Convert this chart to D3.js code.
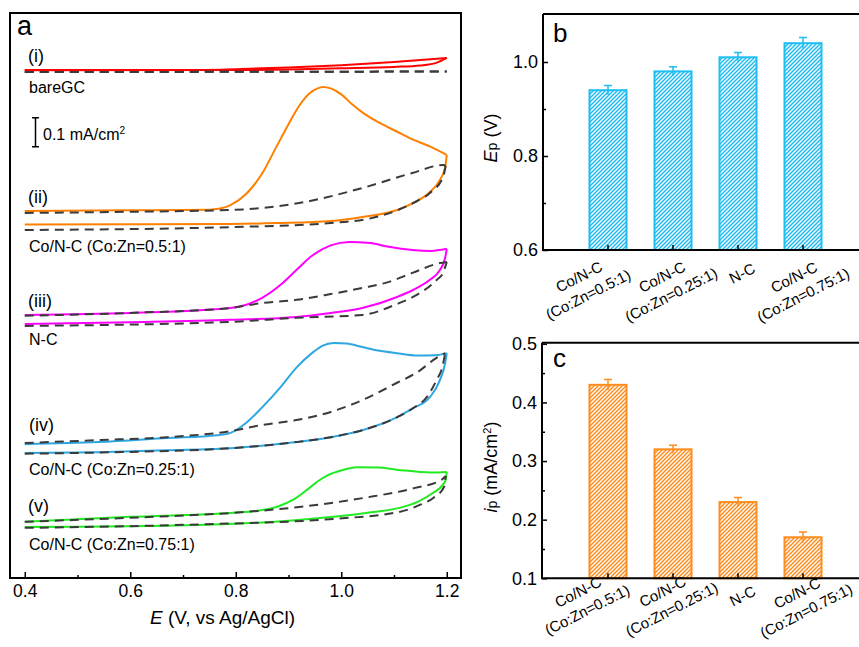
<!DOCTYPE html>
<html><head><meta charset="utf-8">
<script src="https://cdn.jsdelivr.net/npm/d3@7"></script>
<style>body{margin:0;background:#fff}svg{display:block}</style>
</head><body><svg id="c" width="859" height="647"></svg>
<script>
// ---------------- DATA ----------------
// Panel a: cyclic voltammograms (E in V vs Ag/AgCl, j in mA/cm^2, relative to each curve's offset)
const xTicksA = [0.4, 0.6, 0.8, 1.0, 1.2];
const xMinorA = [0.5, 0.7, 0.9, 1.1];
const curveNumerals = ["(i)", "(ii)", "(iii)", "(iv)", "(v)"];
const curveNames = ["bareGC", "Co/N-C (Co:Zn=0.5:1)", "N-C", "Co/N-C (Co:Zn=0.25:1)", "Co/N-C (Co:Zn=0.75:1)"];
const curveOffsets = [1.750, 1.201, 0.870, 0.431, 0.173];
const scaleBarValue = 0.1;

const fwd_i = [[0.40,0.003],[0.70,0.003],[0.80,0.006],[0.90,0.012],[1.00,0.020],[1.10,0.031],[1.20,0.045]];
const rev_i = [[1.20,0.045],[1.18,0.028],[1.15,0.019],[1.10,0.014],[1.00,0.009],[0.90,0.005],[0.80,0.003],[0.40,0.002]];
const bgFwd_i = [[0.40,-0.004],[0.80,-0.003],[1.20,-0.002]];
const bgRev_i = [[1.20,-0.002],[0.80,-0.003],[0.40,-0.004]];

const fwd_ii = [[0.40,0.066],[0.60,0.068],[0.75,0.070],[0.77,0.074],[0.79,0.086],[0.82,0.125],[0.85,0.195],[0.875,0.280],[0.90,0.365],[0.92,0.428],[0.94,0.472],[0.955,0.489],[0.965,0.494],[0.98,0.489],[1.00,0.468],[1.02,0.435],[1.04,0.406],[1.07,0.372],[1.105,0.340],[1.135,0.313],[1.17,0.287],[1.20,0.259]];
const rev_ii = [[1.20,0.259],[1.197,0.217],[1.187,0.173],[1.168,0.131],[1.136,0.093],[1.106,0.069],[1.04,0.045],[0.98,0.031],[0.88,0.024],[0.79,0.021],[0.60,0.020],[0.40,0.019]];
const bgFwd_ii = [[0.40,0.059],[0.60,0.063],[0.79,0.069],[0.92,0.093],[1.04,0.145],[1.135,0.197],[1.193,0.224],[1.198,0.221]];
const bgRev_ii = [[1.198,0.221],[1.193,0.183],[1.168,0.128],[1.136,0.093],[1.073,0.048],[0.98,0.024],[0.79,0.010],[0.40,0.000]];

const fwd_iii = [[0.40,0.038],[0.60,0.045],[0.79,0.062],[0.82,0.073],[0.85,0.097],[0.885,0.142],[0.915,0.193],[0.945,0.243],[0.98,0.278],[1.015,0.290],[1.055,0.286],[1.09,0.273],[1.135,0.262],[1.17,0.259],[1.20,0.266]];
const rev_iii = [[1.20,0.266],[1.197,0.235],[1.187,0.193],[1.168,0.159],[1.136,0.124],[1.106,0.100],[1.04,0.062],[0.98,0.045],[0.915,0.031],[0.79,0.021],[0.60,0.013],[0.40,0.007]];
const bgFwd_iii = [[0.40,0.035],[0.60,0.045],[0.79,0.062],[0.85,0.079],[0.915,0.090],[0.98,0.110],[1.04,0.131],[1.09,0.152],[1.135,0.183],[1.187,0.217],[1.20,0.221]];
const bgRev_iii = [[1.20,0.221],[1.193,0.183],[1.181,0.159],[1.136,0.100],[1.106,0.076],[1.04,0.038],[0.915,0.028],[0.79,0.014],[0.40,0.000]];

const fwd_iv = [[0.40,0.031],[0.54,0.038],[0.67,0.052],[0.765,0.062],[0.79,0.070],[0.82,0.105],[0.85,0.158],[0.885,0.228],[0.915,0.295],[0.945,0.346],[0.965,0.371],[0.985,0.380],[1.01,0.378],[1.04,0.366],[1.07,0.354],[1.105,0.345],[1.145,0.337],[1.18,0.338],[1.20,0.345]];
const rev_iv = [[1.20,0.345],[1.197,0.311],[1.187,0.252],[1.168,0.193],[1.136,0.155],[1.106,0.124],[1.04,0.079],[0.98,0.055],[0.915,0.038],[0.79,0.017],[0.67,0.010],[0.54,0.003],[0.40,0.000]];
const bgFwd_iv = [[0.40,0.035],[0.54,0.045],[0.67,0.055],[0.79,0.076],[0.85,0.097],[0.915,0.114],[0.98,0.142],[1.04,0.183],[1.105,0.242],[1.145,0.280],[1.18,0.328],[1.197,0.345]];
const bgRev_iv = [[1.197,0.345],[1.192,0.300],[1.18,0.250],[1.165,0.200],[1.136,0.155],[1.106,0.124],[1.04,0.079],[0.98,0.055],[0.915,0.038],[0.79,0.017],[0.54,0.002],[0.40,-0.002]];

const fwd_v = [[0.40,0.021],[0.60,0.038],[0.795,0.052],[0.845,0.060],[0.88,0.074],[0.91,0.098],[0.935,0.131],[0.955,0.160],[0.975,0.182],[1.00,0.198],[1.03,0.209],[1.07,0.208],[1.105,0.201],[1.17,0.191],[1.20,0.193]];
const rev_v = [[1.20,0.193],[1.198,0.166],[1.193,0.150],[1.174,0.121],[1.145,0.090],[1.11,0.069],[1.05,0.052],[0.985,0.038],[0.73,0.010],[0.40,0.003]];
const bgFwd_v = [[0.40,0.021],[0.60,0.035],[0.795,0.052],[0.92,0.072],[1.045,0.104],[1.14,0.138],[1.19,0.166],[1.198,0.179]];
const bgRev_v = [[1.198,0.179],[1.195,0.142],[1.175,0.104],[1.15,0.080],[1.11,0.055],[0.985,0.031],[0.73,0.012],[0.40,0.000]];

// Panels b and c: bar charts
const categories = ["Co/N-C (Co:Zn=0.5:1)", "Co/N-C (Co:Zn=0.25:1)", "N-C", "Co/N-C (Co:Zn=0.75:1)"];
const categoryLines = [["Co/N-C","(Co:Zn=0.5:1)"],["Co/N-C","(Co:Zn=0.25:1)"],["N-C"],["Co/N-C","(Co:Zn=0.75:1)"]];
const EpValues = [0.94, 0.98, 1.01, 1.04];
const EpErrors = [0.010, 0.010, 0.010, 0.012];
const EpTicks = [0.6, 0.8, 1.0];
const EpMinor = [0.7, 0.9];
const ipValues = [0.43, 0.32, 0.23, 0.17];
const ipErrors = [0.009, 0.007, 0.008, 0.009];
const ipTicks = [0.1, 0.2, 0.3, 0.4, 0.5];
const ipMinor = [0.15, 0.25, 0.35, 0.45];

// ---------------- STYLE / LAYOUT ----------------
const FONT = '"Liberation Sans", Arial, Helvetica, sans-serif';
const curveColors = ["#ff0000", "#ff8000", "#ff00ff", "#2ea6e0", "#22ea22"];
const dashColor = "#3a3a3a";
const blueBar = "#1fbdf2", orangeBar = "#ff8c1e";

const svg = d3.select("#c");
const defs = svg.append("defs");

// ---------------- PANEL A ----------------
const xA = d3.scaleLinear().domain([0.372, 1.227]).range([10, 461]);
const yA = d3.scaleLinear().domain([0, 1.95]).range([578, 13]);
const gA = svg.append("g");

const curves = [
  {fwd: fwd_i, rev: rev_i, bgF: bgFwd_i, bgR: bgRev_i},
  {fwd: fwd_ii, rev: rev_ii, bgF: bgFwd_ii, bgR: bgRev_ii},
  {fwd: fwd_iii, rev: rev_iii, bgF: bgFwd_iii, bgR: bgRev_iii},
  {fwd: fwd_iv, rev: rev_iv, bgF: bgFwd_iv, bgR: bgRev_iv},
  {fwd: fwd_v, rev: rev_v, bgF: bgFwd_v, bgR: bgRev_v}
];
const asc = seg => seg.slice().sort((a, b) => a[0] - b[0]);
curves.forEach((c, i) => {
  const off = curveOffsets[i];
  const line = d3.line().x(d => xA(d[0])).y(d => yA(d[1] + off)).curve(d3.curveMonotoneX);
  [c.fwd, c.rev].forEach(seg => gA.append("path").attr("d", line(asc(seg))).attr("fill", "none")
    .attr("stroke", curveColors[i]).attr("stroke-width", 2).attr("stroke-linejoin", "round"));
  [c.bgF, c.bgR].forEach(seg => gA.append("path").attr("d", line(asc(seg))).attr("fill", "none")
    .attr("stroke", dashColor).attr("stroke-width", 2).attr("stroke-dasharray", "9,6"));
});

// frame
gA.append("rect").attr("x", xA.range()[0]).attr("y", yA.range()[1])
  .attr("width", xA.range()[1] - xA.range()[0]).attr("height", yA.range()[0] - yA.range()[1])
  .attr("fill", "none").attr("stroke", "#000").attr("stroke-width", 2);

const axA = gA.append("g").attr("transform", `translate(0,${yA.range()[0]})`)
  .call(d3.axisBottom(xA).tickValues(xTicksA).tickSizeInner(-6).tickSizeOuter(0).tickPadding(7).tickFormat(d3.format(".1f")));
axA.select(".domain").remove();
axA.selectAll("line").attr("stroke", "#000").attr("stroke-width", 1.5);
axA.selectAll("text").attr("font-size", 17.5).attr("font-family", FONT).attr("fill", "#000");
const axAm = gA.append("g").attr("transform", `translate(0,${yA.range()[0]})`)
  .call(d3.axisBottom(xA).tickValues(xMinorA).tickSizeInner(-3).tickSizeOuter(0).tickFormat(""));
axAm.select(".domain").remove();
axAm.selectAll("line").attr("stroke", "#000").attr("stroke-width", 1.5);

const xTitle = gA.append("text").attr("x", 222.5).attr("y", 624).attr("text-anchor", "middle")
  .attr("font-family", FONT).attr("font-size", 19);
xTitle.append("tspan").attr("font-style", "italic").text("E");
xTitle.append("tspan").text(" (V, vs Ag/AgCl)");

gA.append("text").attr("x", 17).attr("y", 35).attr("font-family", FONT).attr("font-size", 27).text("a");

const labelPosA = [
  {nx: 28, ny: 62, tx: 29, ty: 92.5},
  {nx: 28, ny: 203, tx: 29, ty: 251.5},
  {nx: 28, ny: 307, tx: 29, ty: 344.5},
  {nx: 29, ny: 431, tx: 29, ty: 475},
  {nx: 28, ny: 512, tx: 29, ty: 549.5}
];
labelPosA.forEach((p, i) => {
  gA.append("text").attr("x", p.nx).attr("y", p.ny).attr("font-family", FONT).attr("font-size", 18).text(curveNumerals[i]);
  gA.append("text").attr("x", p.tx).attr("y", p.ty).attr("font-family", FONT).attr("font-size", 16).text(curveNames[i]);
});

// scale bar
const sbBottom = 146.7, sbX = 35.5;
const sbH = yA(0) - yA(scaleBarValue);
gA.append("path").attr("d", `M${sbX - 3.5},${sbBottom - sbH} H${sbX + 3.5} M${sbX},${sbBottom - sbH} V${sbBottom} M${sbX - 3.5},${sbBottom} H${sbX + 3.5}`)
  .attr("stroke", "#000").attr("stroke-width", 1.5).attr("fill", "none");
const sbT = gA.append("text").attr("x", 43).attr("y", 140).attr("font-family", FONT).attr("font-size", 16);
sbT.append("tspan").text(scaleBarValue + " mA/cm");
sbT.append("tspan").attr("font-size", 10).attr("dy", -6).text("2");

// ---------------- PANELS B, C ----------------
function hatch(id, color) {
  const p = defs.append("pattern").attr("id", id).attr("patternUnits", "userSpaceOnUse").attr("width", 4).attr("height", 4);
  p.append("rect").attr("width", 4).attr("height", 4).attr("fill", "#fff");
  p.append("path").attr("d", "M-1,1 l2,-2 M0,4 l4,-4 M3,5 l2,-2").attr("stroke", color).attr("stroke-width", 1.5);
}
hatch("hb", blueBar);
hatch("ho", orangeBar);

const xB = d3.scaleBand().domain(categories).range([575.5, 835.5]).paddingInner(0.4).paddingOuter(0.2);

function barPanel(opt) {
  const g = svg.append("g");
  const y = opt.y, left = opt.left;
  const y0 = y.range()[0], yTop = y.range()[1];
  opt.values.forEach((v, i) => {
    const cat = categories[i];
    g.append("rect").attr("x", xB(cat) + 1).attr("y", y(v)).attr("width", xB.bandwidth() - 2).attr("height", y0 - y(v))
      .attr("fill", `url(#${opt.pat})`).attr("stroke", opt.color).attr("stroke-width", 2);
    const cx = xB(cat) + xB.bandwidth() / 2;
    const e = opt.errors[i];
    g.append("path").attr("d", `M${cx},${y(v - e)} V${y(v + e)} M${cx - 4},${y(v + e)} H${cx + 4}`)
      .attr("stroke", opt.color).attr("stroke-width", 1.5).attr("fill", "none");
  });
  g.append("path").attr("d", `M${left},${yTop - 1} H870 M${left},${yTop - 1} V${y0} H870`)
    .attr("stroke", "#000").attr("stroke-width", 2).attr("fill", "none");
  const ay = g.append("g").attr("transform", `translate(${left},0)`)
    .call(d3.axisLeft(y).tickValues(opt.ticks).tickSizeInner(-5).tickSizeOuter(0).tickPadding(5).tickFormat(d3.format(".1f")));
  ay.select(".domain").remove();
  ay.selectAll("line").attr("stroke", "#000").attr("stroke-width", 1.5);
  ay.selectAll("text").attr("font-size", 18).attr("font-family", FONT).attr("fill", "#000");
  const aym = g.append("g").attr("transform", `translate(${left},0)`)
    .call(d3.axisLeft(y).tickValues(opt.minor).tickSizeInner(-3).tickSizeOuter(0).tickFormat(""));
  aym.select(".domain").remove();
  aym.selectAll("line").attr("stroke", "#000").attr("stroke-width", 1.5);
  const ax = g.append("g").attr("transform", `translate(0,${y0})`)
    .call(d3.axisBottom(xB).tickSizeInner(-5).tickSizeOuter(0).tickFormat(""));
  ax.select(".domain").remove();
  ax.selectAll("line").attr("stroke", "#000").attr("stroke-width", 1.5);
  categoryLines.forEach((lines, i) => {
    const cx = xB(categories[i]) + xB.bandwidth() / 2;
    const lg = g.append("g").attr("transform", `translate(${cx + opt.labDx[i]},${y0 + opt.labDy[i]}) rotate(-27)`);
    lines.forEach((t, k) => lg.append("text").attr("x", 0).attr("y", k * 20).attr("text-anchor", "middle")
      .attr("dominant-baseline", "central").attr("font-family", FONT).attr("font-size", 15).text(t));
  });
  g.append("text").attr("x", 553).attr("y", opt.letterY).attr("font-family", FONT).attr("font-size", 26).text(opt.letter);
  const yt = g.append("text").attr("transform", `translate(497,${opt.titleY}) rotate(-90)`).attr("text-anchor", "middle")
    .attr("font-family", FONT).attr("font-size", 18);
  opt.title(yt);
}

barPanel({
  y: d3.scaleLinear().domain([0.6, 1.1]).range([250, 15]),
  left: 543, values: EpValues, errors: EpErrors, ticks: EpTicks, minor: EpMinor,
  color: blueBar, pat: "hb", letter: "b", letterY: 42, titleY: 138,
  labDx: [-29, -11, 4, -9], labDy: [26.5, 26.7, 23, 27],
  title: t => { t.append("tspan").attr("font-style", "italic").text("E"); t.append("tspan").attr("font-size", 14).text("p"); t.append("tspan").text(" (V)"); }
});
barPanel({
  y: d3.scaleLinear().domain([0.1, 0.5]).range([578.3, 343.8]),
  left: 542, values: ipValues, errors: ipErrors, ticks: ipTicks, minor: ipMinor,
  color: orangeBar, pat: "ho", letter: "c", letterY: 367, titleY: 467,
  labDx: [-30, -10.5, 4.5, -6], labDy: [13.5, 13, 17.5, 14.5],
  title: t => { t.append("tspan").attr("font-style", "italic").text("i"); t.append("tspan").attr("font-size", 14).text("p");
    t.append("tspan").text(" (mA/cm"); t.append("tspan").attr("font-size", 11).attr("dy", -6).text("2"); t.append("tspan").attr("dy", 6).text(")"); }
});
</script></body></html>
